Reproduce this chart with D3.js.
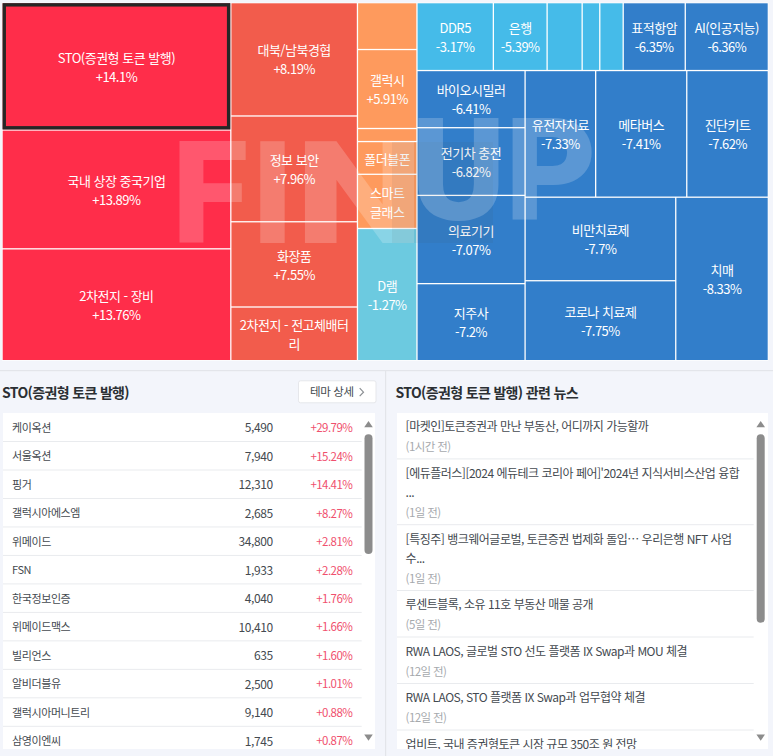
<!DOCTYPE html>
<html lang="ko"><head><meta charset="utf-8">
<script src="https://cdn.jsdelivr.net/npm/d3@7"></script>
<style>
html,body{margin:0;padding:0;background:#f3f5fb;overflow:hidden}
svg{display:block}
text{font-family:"Noto Sans CJK KR","Noto Sans",sans-serif}
text.wm{font-family:Roboto,"Liberation Sans",sans-serif;font-weight:900;font-size:142px;fill:#fff;fill-opacity:.2}
</style></head><body><svg id="c" width="773" height="756"></svg>
<script>
// ---- treemap data
const tileNames = ["STO(증권형 토큰 발행)","국내 상장 중국기업","2차전지 - 장비",
 "대북/남북경협","정보 보안","화장품","2차전지 - 전고체배터\n리",
 "","갤럭시","","폴더블폰","스마트\n글래스","D램",
 "DDR5","은행","","","","표적항암","AI(인공지능)",
 "바이오시밀러","전기차 충전","의료기기","지주사",
 "유전자치료","메타버스","진단키트","비만치료제","코로나 치료제","치매"];
const tilePcts = ["+14.1%","+13.89%","+13.76%",
 "+8.19%","+7.96%","+7.55%",null,
 null,"+5.91%",null,null,null,"-1.27%",
 "-3.17%","-5.39%",null,null,null,"-6.35%","-6.36%",
 "-6.41%","-6.82%","-7.07%","-7.2%",
 "-7.33%","-7.41%","-7.62%","-7.7%","-7.75%","-8.33%"];
const tileSizes = [29020,27080,25480,
 14295,13346,10752,6768,
 2779,4683,774,1940,3213,7836,
 5166,3635,2370,1192,1584,4197,5619,
 6156,7290,9504,8294,
 8904,11493,10293,12537,11995,15078];
const tileBands = ["r","r","r","s","s","s","s","o","o","o","o","o","c",
 "l","l","l","l","l","b","b","b","b","b","b","b","b","b","b","b","b"];
const bandKeys = ["r","s","o","c","l","b"];
const bandColors = ["#ff2d4a","#f25c4c","#fe9a5d","#6ccae0","#45bbe9","#327eca"];
const tileTree = [[0,1,2],[3,4,5,6],[7,8,9,10,11,12],
 [[13,14,15,16,17,18,19],
  [[20,21,22,23],[[24,25,26],[[27,28],29]]]]];
const selectedTile = 0;
// ---- stock table
const stockNames = ["케이옥션","서울옥션","핑거","갤럭시아에스엠","위메이드","FSN","한국정보인증","위메이드맥스","빌리언스","알비더블유","갤럭시아머니트리","삼영이엔씨"];
const stockPrices = ["5,490","7,940","12,310","2,685","34,800","1,933","4,040","10,410","635","2,500","9,140","1,745"];
const stockChanges = ["+29.79%","+15.24%","+14.41%","+8.27%","+2.81%","+2.28%","+1.76%","+1.66%","+1.60%","+1.01%","+0.88%","+0.87%"];
// ---- news
const newsLines = [["[마켓인]토큰증권과 만난 부동산, 어디까지 가능할까"],
 ["[에듀플러스][2024 에듀테크 코리아 페어]'2024년 지식서비스산업 융합","..."],
 ["[특징주] 뱅크웨어글로벌, 토큰증권 법제화 돌입… 우리은행 NFT 사업","수..."],
 ["루센트블록, 소유 11호 부동산 매물 공개"],
 ["RWA LAOS, 글로벌 STO 선도 플랫폼 IX Swap과 MOU 체결"],
 ["RWA LAOS, STO 플랫폼 IX Swap과 업무협약 체결"],
 ["업비트, 국내 증권형토큰 시장 규모 350조 원 전망"]];
const newsTimes = ["(1시간 전)","(1일 전)","(1일 전)","(5일 전)","(12일 전)","(12일 전)",""];
const themeTitle = "STO(증권형 토큰 발행)";

const svg = d3.select("#c");
const ink="#444a50";
// treemap
const root = d3.hierarchy(tileTree, d=>Array.isArray(d)?d:null).sum(d=>Array.isArray(d)?0:tileSizes[d]);
d3.treemap().tile(d3.treemapSliceDice).size([766.3,358]).round(false)(root);
root.each(d=>{d.x0+=2.05;d.x1+=2.05;d.y0+=2.65;d.y1+=2.65;});
const color = d3.scaleOrdinal(bandKeys,bandColors);
svg.append("rect").attr("x",2.05).attr("y",2.65).attr("width",766.3).attr("height",358).attr("fill","#fff");
const tiles = svg.append("g").selectAll("g").data(root.leaves()).join("g");
const ins=0.65;
tiles.append("rect").attr("x",d=>d.x0+ins).attr("y",d=>d.y0+ins)
 .attr("width",d=>d.x1-d.x0-2*ins).attr("height",d=>d.y1-d.y0-2*ins)
 .attr("fill",d=>color(tileBands[d.data]));
tiles.each(function(d){
  const lines=tileNames[d.data]?tileNames[d.data].split("\n"):[];
  if(tilePcts[d.data])lines.push(tilePcts[d.data]);
  const cx=(d.x0+d.x1)/2, cy=(d.y0+d.y1)/2, lh=19;
  d3.select(this).selectAll("text").data(lines).join("text")
   .attr("x",cx).attr("y",(l,i)=>cy+(i-(lines.length-1)/2)*lh+1)
   .attr("dy","0.36em").attr("text-anchor","middle").attr("fill","#fff")
   .attr("font-size",13).attr("letter-spacing",-0.5).text(l=>l);
});
root.leaves().filter(d=>d.data===selectedTile).forEach(d=>{
  svg.append("rect").attr("x",d.x0+2.2).attr("y",d.y0+2.2).attr("width",d.x1-d.x0-4.4).attr("height",d.y1-d.y0-4.4)
   .attr("fill","none").attr("stroke","#262626").attr("stroke-width",3.4);
});
// watermark
const wm=svg.append("g");
[["F",172,76],["I",251,43],["N",295,129]].forEach(([t,x,w])=>wm.append("text").attr("class","wm").attr("x",x).attr("y",243).attr("textLength",w).attr("lengthAdjust","spacingAndGlyphs").text(t));
svg.append("rect").attr("x",392).attr("y",142).attr("width",101).attr("height",101).attr("fill","#444").attr("fill-opacity",0.07);
const wm2=svg.append("g");
[["U",411,95],["P",505,92]].forEach(([t,x,w])=>wm2.append("text").attr("class","wm").attr("x",x).attr("y",220).attr("textLength",w).attr("lengthAdjust","spacingAndGlyphs").text(t));

// dividers
svg.append("rect").attr("x",0).attr("y",370).attr("width",773).attr("height",1.2).attr("fill","#e3e5ea");
svg.append("rect").attr("x",385).attr("y",371).attr("width",1.2).attr("height",385).attr("fill","#e3e5ea");
// headings
svg.append("text").attr("x",2).attr("y",397.5).attr("font-size",14).attr("font-weight",700).attr("fill","#2b2f33").attr("letter-spacing",-0.65).text(themeTitle);
svg.append("text").attr("x",395.5).attr("y",397.5).attr("font-size",14).attr("font-weight",700).attr("fill","#2b2f33").attr("letter-spacing",-0.65).text(themeTitle+" 관련 뉴스");
// button
svg.append("rect").attr("x",298.5).attr("y",380.8).attr("width",77.5).attr("height",22).attr("rx",2).attr("fill","#fff").attr("stroke","#e6e7eb");
svg.append("text").attr("x",310).attr("y",396).attr("font-size",11.5).attr("fill",ink).attr("letter-spacing",-0.35).text("테마 상세");
svg.append("path").attr("d","M359.7 388.2l3.8 4-3.8 4").attr("fill","none").attr("stroke","#8b8f93").attr("stroke-width",1.2);

// panels
const defs=svg.append("defs");
defs.append("clipPath").attr("id","pl").append("rect").attr("x",3).attr("y",413).attr("width",372).attr("height",336);
defs.append("clipPath").attr("id","pr").append("rect").attr("x",397).attr("y",413).attr("width",371).attr("height",336);
svg.append("rect").attr("x",3).attr("y",413).attr("width",372).attr("height",336).attr("fill","#fff");
svg.append("rect").attr("x",397).attr("y",413).attr("width",371).attr("height",336).attr("fill","#fff");
// table
const rowY=d3.scaleBand().domain(stockNames).range([413.06,754.8]);
const tb=svg.append("g").attr("clip-path","url(#pl)");
const rows=tb.selectAll("g").data(stockNames).join("g").attr("transform",d=>`translate(0,${rowY(d)})`);
const bw=rowY.bandwidth();
rows.append("line").attr("x1",3).attr("x2",361.7).attr("y1",bw).attr("y2",bw).attr("stroke","#e9ebee").attr("stroke-width",1);
rows.append("text").attr("x",12).attr("y",bw/2+0.7).attr("dy","0.36em").attr("font-size",11).attr("fill",ink).attr("letter-spacing",-0.4).text(d=>d);
rows.append("text").attr("x",272.7).attr("y",bw/2+0.7).attr("dy","0.36em").attr("text-anchor","end").attr("font-size",12).attr("fill",ink).attr("letter-spacing",-0.4).text((d,i)=>stockPrices[i]);
rows.append("text").attr("x",352.3).attr("y",bw/2+0.7).attr("dy","0.36em").attr("text-anchor","end").attr("font-size",11.5).attr("fill","#f0506e").attr("letter-spacing",-0.55).text((d,i)=>stockChanges[i]);
// scrollbars
function scrollbar(cx,top,bottom){
  svg.append("path").attr("d",`M${cx-4.3} 427.2L${cx} 421L${cx+4.3} 427.2Z`).attr("fill","#8c8c8c");
  svg.append("path").attr("d",`M${cx-4.3} 734.5L${cx} 740.7L${cx+4.3} 734.5Z`).attr("fill","#8c8c8c");
  svg.append("rect").attr("x",cx-4).attr("y",top).attr("width",8).attr("height",bottom-top).attr("rx",4).attr("fill","#8c8c8c");
}
scrollbar(368.5,434.3,554);
scrollbar(760.7,434.3,622.7);
// news
const nb=svg.append("g").attr("clip-path","url(#pr)");
let y=427;
const step=19.3;
newsLines.forEach((ls,i)=>{
  ls.forEach((l,j)=>{
    nb.append("text").attr("x",405.6).attr("y",y+j*step).attr("dy","0.36em").attr("font-size",12).attr("fill",ink).attr("letter-spacing",-0.5).text(l);
  });
  const ty=y+ls.length*step+0.6;
  nb.append("text").attr("x",405.6).attr("y",ty).attr("dy","0.36em").attr("font-size",11.5).attr("fill","#a6a9ad").attr("letter-spacing",-0.6).text(newsTimes[i]);
  const sep=ty+12;
  nb.append("line").attr("x1",397).attr("x2",753.7).attr("y1",sep).attr("y2",sep).attr("stroke","#e9ebee");
  y=sep+14.6;
});
</script></body></html>
